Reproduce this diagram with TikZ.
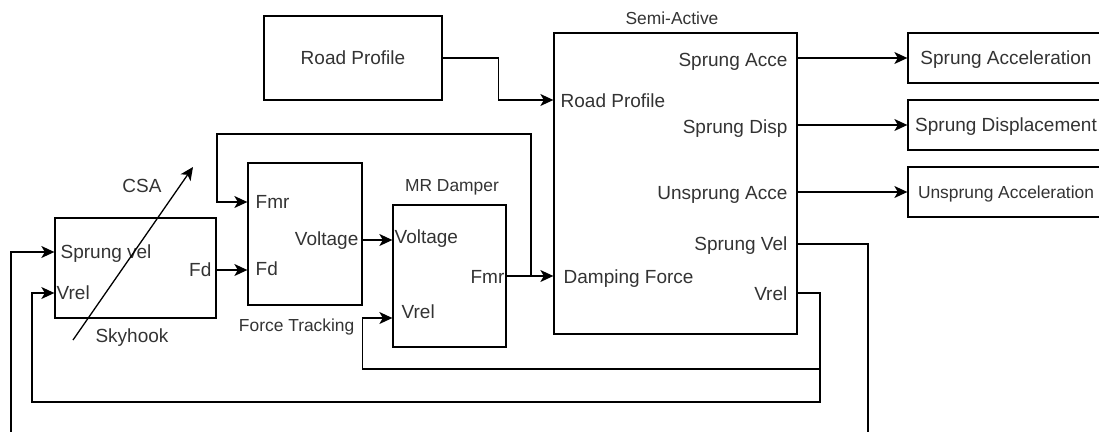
\documentclass[tikz,border=0pt]{standalone}
\usepackage{fontspec}
\setmainfont{Liberation Sans}
\usetikzlibrary{arrows.meta}
\begin{document}
\begin{tikzpicture}[x=1pt,y=-1pt,
  line width=1.3pt,
  box/.style={draw, rectangle, inner sep=0},
  big/.style={font=\fontsize{19}{22}\selectfont, text=black!80, inner sep=0, text height=13.6pt, text depth=0pt},
  small/.style={font=\fontsize{17.4}{20}\selectfont, text=black!80, inner sep=0, text height=12.5pt, text depth=0pt},
  wire/.style={draw, line width=1.3pt},
  arr/.style={wire, -{Stealth[length=13pt,width=12pt,inset=3.5pt]}},
]
\useasboundingbox (0,0) rectangle (1099,431);
\clip (0,0) rectangle (1099,431);

% boxes
\node[box, minimum width=161pt, minimum height=100pt] (sky) at (135.5,268) {};
\node[box, minimum width=114pt, minimum height=142pt] (ft) at (305,234) {};
\node[box, minimum width=113pt, minimum height=142pt] (mr) at (449.5,276) {};
\node[box, minimum width=243pt, minimum height=301pt] (semi) at (675.5,183.5) {};
\node[box, big, minimum width=178pt, minimum height=84pt] (road) at (353,58) {Road Profile};
\node[box, big, minimum width=196pt, minimum height=50pt] (out1) at (1006,58) {Sprung Acceleration};
\node[box, big, minimum width=196pt, minimum height=50pt] (out2) at (1006,125) {Sprung Displacement};
\node[box, small, minimum width=196pt, minimum height=50pt] (out3) at (1006,192) {Unsprung Acceleration};

% titles
\node[small] (tsemi) at (672,18) {Semi-Active};
\node[small] (tmr) at (452,185) {MR Damper};
\node[small, anchor=east] (tft) at (355,325) {Force Tracking};
\node[big] (tsky) at (132,336) {Skyhook};
\node[big] (tcsa) at (142,186) {CSA};

% port labels
\node[big, anchor=west] (lsv) at (60,252) {Sprung vel};
\node[big, anchor=west] (lvr) at (56,293) {Vrel};
\node[big, anchor=east] (lfd) at (212,270) {Fd};
\node[big, anchor=west] (lfmr) at (255,202) {Fmr};
\node[big, anchor=west] (lfd2) at (255,269) {Fd};
\node[big, anchor=east] (lvolt) at (359,239) {Voltage};
\node[big, anchor=west] (lvolt2) at (394,237) {Voltage};
\node[big, anchor=east] (lfmr2) at (505,277) {Fmr};
\node[big, anchor=west] (lvr2) at (401,312) {Vrel};
\node[big, anchor=east] (lsacc) at (788,60) {Sprung Acce};
\node[big, anchor=west] (lrp) at (560,101) {Road Profile};
\node[big, anchor=east] (lsdisp) at (788,127) {Sprung Disp};
\node[big, anchor=east] (lusacc) at (788,193) {Unsprung Acce};
\node[big, anchor=east] (lsvel) at (788,244) {Sprung Vel};
\node[big, anchor=west] (ldf) at (563,277) {Damping Force};
\node[big, anchor=east] (lvr3) at (788,294) {Vrel};

% free ends and junctions
\coordinate (svEnd) at (868,440);
\coordinate (fbStart) at (11,440);
\coordinate (vrJ) at (820,369);
\coordinate (fmrJ) at (531,276);
\coordinate (csaA) at (73,340);
\coordinate (csaB) at (193,167);

% connectors
\draw[arr] (road.east) -- ++(56,0) |- (semi.west |- 0,100);
\draw[arr] (semi.east |- out1) -- (out1.west);
\draw[arr] (semi.east |- out2) -- (out2.west);
\draw[arr] (semi.east |- out3) -- (out3.west);
\draw[wire] (semi.east |- 0,244) -| (svEnd);
\draw[arr] (semi.east |- 0,293) -| (820,402) -- (32,402) |- (sky.west |- 0,293);
\draw[arr] (vrJ) -| (ft.east |- 0,318) -- (mr.west |- 0,318);
\draw[arr] (fbStart) |- (sky.west |- 0,252);
\draw[arr] (sky.east |- 0,270) -- (ft.west |- 0,270);
\draw[arr] (mr.east |- 0,276) -- (semi.west |- 0,276);
\draw[arr] (fmrJ) -- (531,134) -| (217,202) -- (ft.west |- 0,202);
\draw[arr] (ft.east |- 0,240) -- (mr.west |- 0,240);
\draw[arr] (csaA) -- (csaB);
\end{tikzpicture}
\end{document}
